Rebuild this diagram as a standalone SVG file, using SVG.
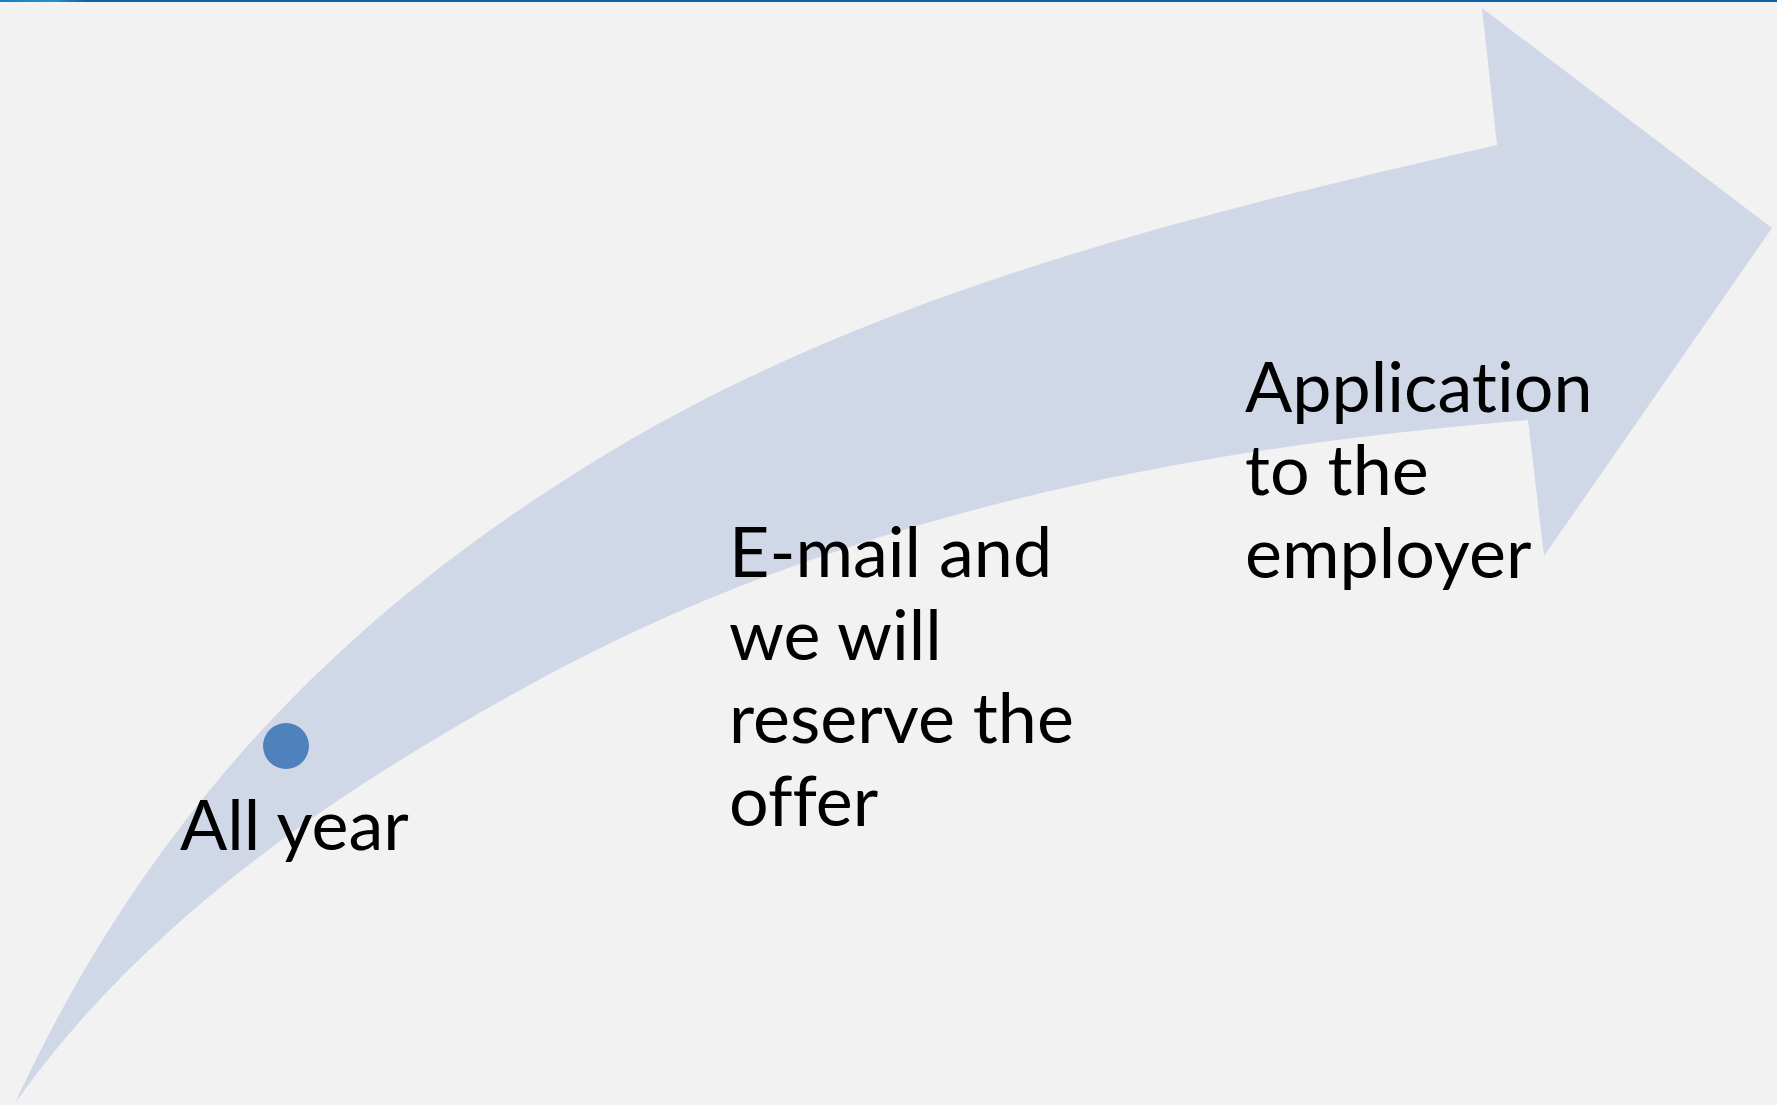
<svg xmlns="http://www.w3.org/2000/svg" width="1777" height="1105" viewBox="0 0 1777 1105">
  <defs>
    <linearGradient id="barGrad" x1="0" y1="0" x2="1" y2="0">
      <stop offset="0" stop-color="#1a7cc4"/>
      <stop offset="0.03" stop-color="#2a8ed0"/>
      <stop offset="0.05" stop-color="#0b5fa3"/>
      <stop offset="1" stop-color="#0b5fa3"/>
    </linearGradient>
    <style>
      .lbl { font-family: Lato, "Liberation Sans", sans-serif; font-size: 70px; fill: #000000; font-variant-ligatures: none; font-feature-settings: "liga" 0, "clig" 0; }
    </style>
  </defs>
  <rect x="0" y="0" width="1777" height="1105" fill="#f2f2f2"/>
  <rect x="0" y="0" width="1777" height="2" fill="url(#barGrad)"/>

  <g id="arrow">
    <path d="M15,1103 C154,803 356,604 613,450 C879,291 1195,214 1497,145 L1482,8 L1772,228 L1544,556 L1528,420 C1180,448 833,518 533,683 C334,792 145,920 15,1103 Z" fill="#d0d8e8"/>
  </g>

  <g id="dot">
    <circle cx="286" cy="746" r="23" fill="#4f81bd"/>
  </g>

  <g id="step1">
    <text class="lbl" x="180" y="850">All year</text>
  </g>

  <g id="step2">
    <text class="lbl" x="729" y="577">E-mail and</text>
    <text class="lbl" x="729" y="660">we will</text>
    <text class="lbl" x="729" y="743">reserve the</text>
    <text class="lbl" x="729" y="826">offer</text>
  </g>

  <g id="step3">
    <text class="lbl" x="1245" y="412">Application</text>
    <text class="lbl" x="1245" y="495">to the</text>
    <text class="lbl" x="1245" y="578">employer</text>
  </g>
</svg>
